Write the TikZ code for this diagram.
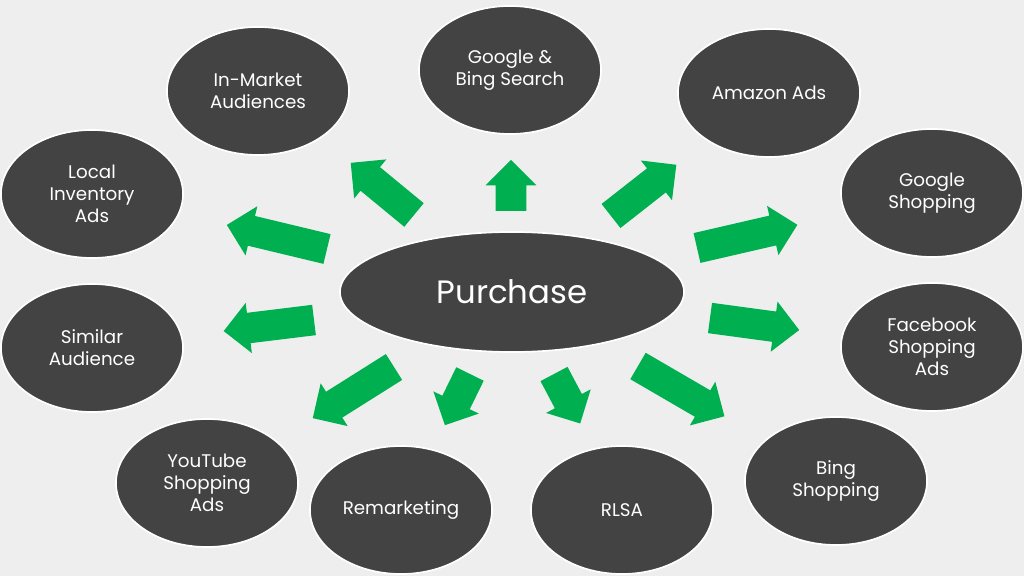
\documentclass[tikz,border=0pt]{standalone}
\usepackage{fontspec}
\setmainfont{Poppins}
\usetikzlibrary{shapes,shapes.arrows}
\definecolor{bubblegray}{HTML}{434343}
\definecolor{pagegray}{HTML}{EEEEEE}
\definecolor{arrowgreen}{HTML}{00B050}
\tikzstyle{bubble}=[ellipse,fill=bubblegray,draw=white,line width=1.2pt,minimum width=4.55cm,minimum height=3.2cm,inner sep=0pt,text=white,align=center,font=\fontsize{13}{15.5}\selectfont]
\tikzstyle{bigbubble}=[bubble,minimum width=8.6cm,minimum height=3cm,font=\fontsize{23}{27}\selectfont]
\tikzstyle{blockarrow}=[single arrow,fill=arrowgreen,inner xsep=0pt,inner ysep=0.375cm,outer sep=0pt,single arrow head extend=0.25cm,single arrow head indent=0pt,anchor=tail]

\begin{document}
\begin{tikzpicture}[x=0.025cm,y=0.025cm]

    % background of the slide
    \fill[pagegray] (0,0) rectangle (1024,576);
    \useasboundingbox (0,0) rectangle (1024,576);

    % First we draw the bubbles
    \node[bigbubble] (purchase) at (512,284) {Purchase};
    \foreach \pos/\name/\label in {{(258,485)/inmarket/{In-Market\\Audiences}}, {(510,506)/googlebing/{Google \&\\Bing Search}}, {(769,483)/amazon/{Amazon Ads}}, {(92,382)/localinv/{Local\\Inventory\\Ads}}, {(932,383)/gshopping/{Google\\Shopping}}, {(92,228)/similar/{Similar\\Audience}}, {(932,229)/facebook/{Facebook\\Shopping\\Ads}}, {(207,93)/youtube/{YouTube\\Shopping\\Ads}}, {(401,66)/remarketing/{Remarketing}}, {(622,66)/rlsa/{RLSA}}, {(836,95)/bingshop/{Bing\\Shopping}}}
        \node[bubble] (\name) at \pos {\label};

    % Then the green arrows going out of the purchase
    \foreach \pos/\name/\angle/\len in {{(414,361)/toinmarket/140.5/82}, {(511,365)/togooglebing/90/51}, {(611,360)/toamazon/38.1/83}, {(327,327)/tolocalinv/166.5/103}, {(697,328)/togshopping/13/103}, {(314,256)/tosimilar/187/91}, {(710,258)/tofacebook/-7.7/90}, {(394,209)/toyoutube/212.2/96}, {(470,202)/toremarketing/243.9/57}, {(554,202)/torlsa/-62.1/56}, {(638,210)/tobingshop/-30.2/100}}
        \node[blockarrow,rotate=\angle,minimum height=\len*0.025cm] (\name) at \pos {};

\end{tikzpicture}
\end{document}
